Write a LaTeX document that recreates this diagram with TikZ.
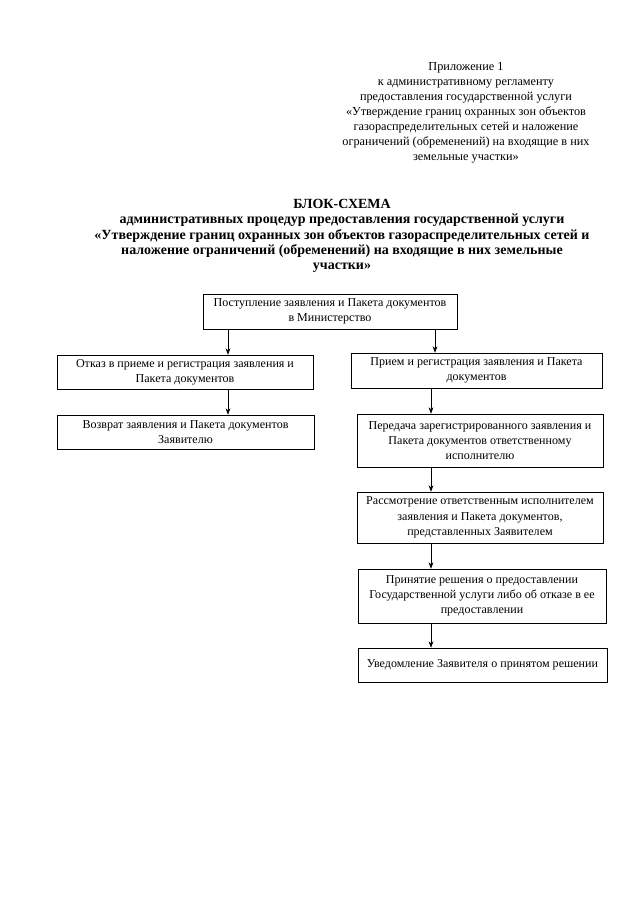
\documentclass[tikz,border=0pt]{standalone}
\usepackage{fontspec}
\setmainfont{Liberation Serif}
\usetikzlibrary{arrows.meta,calc}
\newdimen\pxu
\pxu=0.9297pt
\tikzset{
  box/.style={draw=black, line width=0.6pt, inner sep=0pt, align=center,
    font=\fontsize{11.2}{14.2}\selectfont},
  arr/.style={draw=black, line width=0.6pt, -{Stealth[length=6pt,width=4.5pt]}},
  plain/.style={align=center, inner sep=0pt}
}
\newcommand{\bx}[6]{% name, x1, x2, y1, y2, text
  \node[box, minimum width={(#3-#2)*\pxu}, minimum height={(#5-#4)*\pxu}]
    (#1) at ({(#2+#3)/2},{(#4+#5)/2}) {#6};}
\begin{document}
\begin{tikzpicture}[x=0.9297pt, y=-0.9297pt]
\useasboundingbox[fill=white] (0,0) rectangle (640,905);

\node[plain, font=\fontsize{11.4}{14}\selectfont] (hdr) at (466,113) {Приложение 1\\
к административному регламенту\\
предоставления государственной услуги\\
«Утверждение границ охранных зон объектов\\
газораспределительных сетей и наложение\\
ограничений (обременений) на входящие в них\\
земельные участки»};

\node[plain, font=\fontsize{13}{14.2}\selectfont\bfseries] (ttl) at (342,236) {БЛОК-СХЕМА\\
административных процедур предоставления государственной услуги\\
«Утверждение границ охранных зон объектов газораспределительных сетей и\\
наложение ограничений (обременений) на входящие в них земельные\\
участки»};

\bx{b1}{203}{457}{294}{329}{Поступление заявления и Пакета документов\\в Министерство}
\bx{l1}{57}{313}{355}{389}{Отказ в приеме и регистрация заявления и\\Пакета документов}
\bx{l2}{57}{314}{415}{449}{Возврат заявления и Пакета документов\\Заявителю}
\bx{r1}{351}{602}{353}{388}{Прием и регистрация заявления и Пакета\\документов}
\bx{r2}{357}{603}{414}{467}{Передача зарегистрированного заявления и\\Пакета документов ответственному\\исполнителю}
\bx{r3}{357}{603}{492}{543}{Рассмотрение ответственным исполнителем\\заявления и Пакета документов,\\представленных Заявителем}
\bx{r4}{358}{606}{569}{623}{Принятие решения о предоставлении\\Государственной услуги либо об отказе в ее\\предоставлении}
\bx{r5}{358}{607}{648}{682}{Уведомление Заявителя о принятом решении}

\coordinate (lx) at (228,0);
\coordinate (rx0) at (435,0);
\coordinate (rx) at (431,0);

\draw[arr] (b1.south -| lx) -- (l1.north -| lx);
\draw[arr] (b1.south -| rx0) -- (r1.north -| rx0);
\draw[arr] (l1.south -| lx) -- (l2.north -| lx);
\draw[arr] (r1.south -| rx) -- (r2.north -| rx);
\draw[arr] (r2.south -| rx) -- (r3.north -| rx);
\draw[arr] (r3.south -| rx) -- (r4.north -| rx);
\draw[arr] (r4.south -| rx) -- (r5.north -| rx);
\end{tikzpicture}
\end{document}
